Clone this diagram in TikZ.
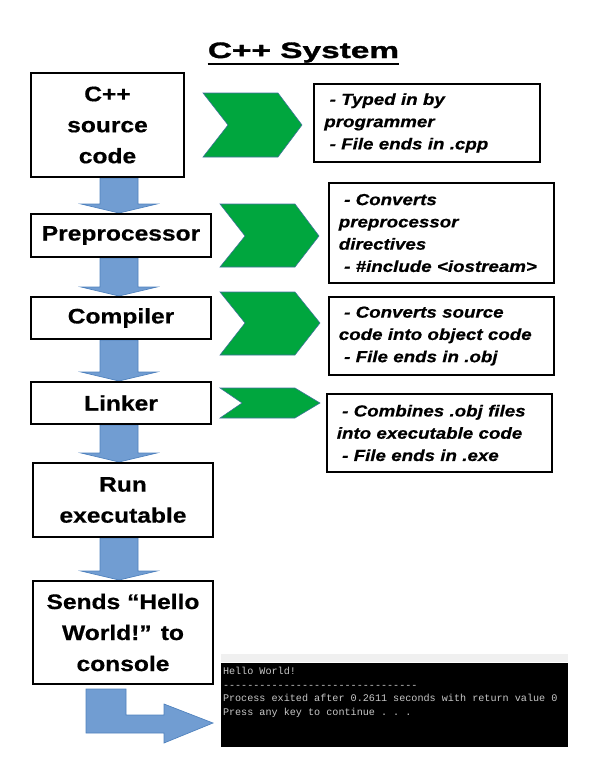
\documentclass[tikz,border=0pt]{standalone}
\usepackage{fontspec}
\setmainfont{Liberation Sans}[FakeStretch=1.17, BoldFeatures={FakeBold=0.6}, BoldItalicFeatures={FakeBold=0.6}]
\setmonofont{Liberation Mono}
\newfontfamily\titlefont{Liberation Sans}[FakeStretch=1.5, BoldFeatures={FakeBold=1.5}]
\usetikzlibrary{calc}
\definecolor{chevgreen}{RGB}{0,166,62}
\definecolor{chevedge}{RGB}{65,113,156}
\definecolor{flowblue}{RGB}{113,157,210}
\definecolor{flowedge}{RGB}{79,129,189}
\definecolor{consolegray}{RGB}{200,200,200}
\pgfdeclarelayer{background}
\pgfsetlayers{background,main}

\begin{document}
\begin{tikzpicture}[x=0.75pt,y=-0.75pt,
        stage/.style = {draw=black, line width=1.5pt, fill=white, align=center, inner sep=0pt,
                        font=\bfseries\fontsize{15.75}{23.25}\selectfont},
        note/.style = {draw=black, line width=1.5pt, fill=white, align=left, text width=154pt,
                       inner xsep=7.5pt, inner ysep=0pt, font=\bfseries\itshape\fontsize{12}{16.7}\selectfont},
        chevron/.style = {fill=chevgreen, draw=chevedge, line width=0.4pt},
        flow/.style = {fill=flowblue, draw=flowedge, line width=0.5pt}]
        \useasboundingbox (0,0) rectangle (598,771);

        % title
        \node[inner sep=0pt, anchor=base, font=\titlefont\bfseries\fontsize{16.7}{20}\selectfont] (title) at (303.5,58) {C++ System};
        \draw[line width=1.2pt] ([yshift=-4.5pt]title.base west) -- ([yshift=-4.5pt]title.base east);

        % stages
        \node[stage, minimum width=114.75pt, minimum height=78pt] (src) at (107.5,125) {C++\\source\\code};
        \node[stage, minimum width=135pt, minimum height=32.25pt] (pre) at (121,235.5) {Preprocessor};
        \node[stage, minimum width=135pt, minimum height=31.5pt] (comp) at (121,318) {Compiler};
        \node[stage, minimum width=135pt, minimum height=31.5pt] (link) at (121,403) {Linker};
        \node[stage, minimum width=135pt, minimum height=55.5pt] (run) at (123,500) {Run\\executable};
        \node[stage, minimum width=135pt, minimum height=77.25pt] (send) at (123,632.5) {Sends “Hello\\World!” to\\console};

        % notes
        \node[note, minimum height=58.5pt] (typed) at (427,123)
            {\hspace*{4pt}- Typed in by\\programmer\\\hspace*{4pt}- File ends in .cpp};
        \node[note, minimum height=75pt] (direct) at (441.5,233)
            {\hspace*{4pt}- Converts\\preprocessor\\directives\\\hspace*{4pt}- \#include <iostream>};
        \node[note, minimum height=58.5pt] (objcode) at (441.5,336)
            {\hspace*{4pt}- Converts source\\code into object code\\\hspace*{4pt}- File ends in .obj};
        \node[note, minimum height=58.5pt] (execode) at (439.5,433)
            {\hspace*{4pt}- Combines .obj files\\into executable code\\\hspace*{4pt}- File ends in .exe};

        % chevrons
        \filldraw[chevron] (203,93) -- (278,93) -- (302,125) -- (278,157) -- (203,157) -- (228,125) -- cycle;
        \filldraw[chevron] (220,204) -- (295,204) -- (319,236) -- (295,267) -- (220,267) -- (245,236) -- cycle;
        \filldraw[chevron] (220,292) -- (295,292) -- (320,323) -- (295,355) -- (220,355) -- (245,323) -- cycle;
        \filldraw[chevron] (220,388) -- (295,388) -- (320,403) -- (295,418) -- (220,418) -- (242,403) -- cycle;

        % console
        \node[fill=black, minimum width=260.25pt, minimum height=63pt, inner sep=0pt] (console) at (394.5,705) {};
        \node[fill=gray!12, anchor=south, minimum width=260.25pt, minimum height=6pt, inner sep=0pt] (titlebar) at (console.north) {};
        \node[anchor=north west, inner sep=0pt, align=left, text=consolegray,
              font=\ttfamily\fontsize{7.6}{10.3}\selectfont] (output) at ($(console.north west)+(2,4)$)
            {Hello World!\\--------------------------------\\Process exited after 0.2611 seconds with return value 0\\Press any key to continue . . .};

        % flow arrows
        \coordinate (axis) at (119,0);
        \begin{pgfonlayer}{background}
        \foreach \a/\b in {src/pre,pre/comp,comp/link,link/run,run/send}
            \filldraw[flow] ($(\a.south -| axis)+(-19,0)$) -- ($(\a.south -| axis)+(19,0)$)
                -- ($(\b.north -| axis)+(19,-9)$) -- ($(\b.north -| axis)+(38,-9)$) -- (\b.north -| axis)
                -- ($(\b.north -| axis)+(-38,-9)$) -- ($(\b.north -| axis)+(-19,-9)$) -- cycle;
        \end{pgfonlayer}
        \filldraw[flow] ($(send.south)+(-37,4)$) -- ($(send.south)+(3,4)$) -- ($(send.south)+(3,30)$)
            -- ($(send.south)+(41,30)$) -- ($(send.south)+(41,19)$) -- ($(send.south)+(90,38)$)
            -- ($(send.south)+(41,58)$) -- ($(send.south)+(41,48)$) -- ($(send.south)+(-37,48)$) -- cycle;

    \end{tikzpicture}
\end{document}
